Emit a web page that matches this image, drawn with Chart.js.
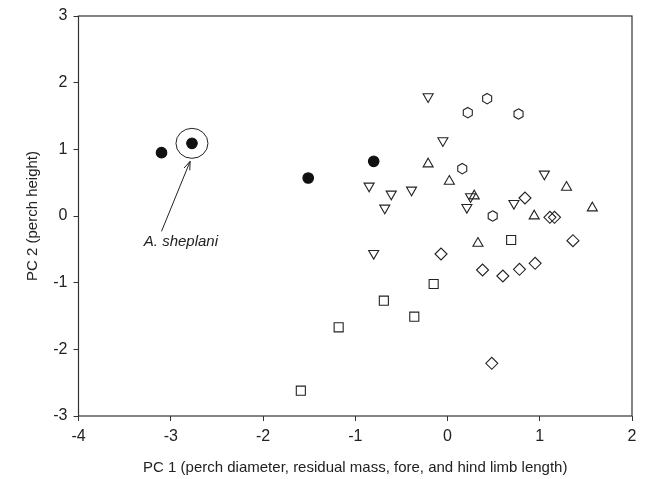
<!DOCTYPE html>
<html>
<head>
<meta charset="utf-8">
<script src="https://cdn.jsdelivr.net/npm/chart.js@4.4.1/dist/chart.umd.min.js"></script>
<style>
  html, body { margin: 0; padding: 0; background: #fff; }
  #wrap { width: 646px; height: 479px; }
</style>
</head>
<body>
<div id="wrap"><canvas id="grafico" width="646" height="479"></canvas></div>
<script>
// Dados (PC1, PC2)
const circuloX = [-3.10, -2.77, -1.51, -0.80];
const circuloY = [0.95, 1.09, 0.57, 0.82];

const trianguloBaixoX = [-0.21, -0.05, -0.85, -0.61, -0.39, -0.68, 0.25, 0.21, 0.72, 1.05, -0.80];
const trianguloBaixoY = [1.79, 1.13, 0.45, 0.33, 0.39, 0.12, 0.29, 0.13, 0.19, 0.63, -0.56];

const trianguloCimaX = [-0.21, 0.02, 0.29, 1.29, 1.57, 0.94, 0.33];
const trianguloCimaY = [0.78, 0.52, 0.30, 0.43, 0.12, 0.00, -0.41];

const hexagonoX = [0.43, 0.22, 0.77, 0.16, 0.49];
const hexagonoY = [1.76, 1.55, 1.53, 0.71, 0.00];

const losangoX = [0.84, 1.11, 1.16, 1.36, -0.07, 0.38, 0.60, 0.78, 0.95, 0.48];
const losangoY = [0.27, -0.02, -0.02, -0.37, -0.57, -0.81, -0.90, -0.80, -0.71, -2.21];

const quadradoX = [0.69, -0.15, -0.69, -0.36, -1.18, -1.59];
const quadradoY = [-0.36, -1.02, -1.27, -1.51, -1.67, -2.62];

// Anotação: ponto destacado, seta e rótulo
const destaque = { x: -2.77, y: 1.09 };
const setaInicio = { x: -3.10, y: -0.23 };
const setaFim = { x: -2.79, y: 0.82 };
const rotulo = { x: -2.89, y: -0.38, texto: 'A. sheplani' };

const COR = '#222';
const FONTE = '"Liberation Sans", Arial, sans-serif';

function pontos(xs, ys) {
  return xs.map((x, i) => ({ x, y: ys[i] }));
}

const estiloBase = {
  borderColor: COR,
  backgroundColor: 'transparent',
  borderWidth: 1.1,
  showLine: false
};

const datasets = [
  { ...estiloBase, data: pontos(trianguloBaixoX, trianguloBaixoY), pointStyle: 'triangle', rotation: 180, pointRadius: 5.8 },
  { ...estiloBase, data: pontos(trianguloCimaX, trianguloCimaY), pointStyle: 'triangle', pointRadius: 5.8 },
  // hexágonos: o Chart.js não tem esse marcador, desenhados no plugin
  { ...estiloBase, data: pontos(hexagonoX, hexagonoY), pointRadius: 0, hexagono: true },
  { ...estiloBase, data: pontos(losangoX, losangoY), pointStyle: 'rectRot', pointRadius: 6 },
  { ...estiloBase, data: pontos(quadradoX, quadradoY), pointStyle: 'rect', pointRadius: 6.4 },
  { ...estiloBase, data: pontos(circuloX, circuloY), pointStyle: 'circle', pointRadius: 5.3, backgroundColor: '#111', borderColor: '#111' }
];

// Moldura, hexágonos e anotações
const pluginMoldura = {
  id: 'moldura',
  afterDatasetsDraw(chart) {
    const { ctx, chartArea: a, scales } = chart;
    const sx = scales.x, sy = scales.y;
    ctx.save();
    ctx.strokeStyle = '#333';
    ctx.lineWidth = 1.2;
    ctx.strokeRect(a.left, a.top, a.right - a.left, a.bottom - a.top);

    // hexágonos
    chart.data.datasets.forEach((ds, i) => {
      if (!ds.hexagono) return;
      const r = 5.2;
      ctx.strokeStyle = COR;
      ctx.lineWidth = 1.1;
      chart.getDatasetMeta(i).data.forEach(p => {
        ctx.beginPath();
        for (let k = 0; k < 6; k++) {
          const ang = Math.PI / 3 * k;
          const px = p.x + Math.sin(ang) * r;
          const py = p.y - Math.cos(ang) * r;
          if (k === 0) ctx.moveTo(px, py); else ctx.lineTo(px, py);
        }
        ctx.closePath();
        ctx.stroke();
      });
    });

    // círculo em volta do ponto
    ctx.strokeStyle = COR;
    ctx.lineWidth = 1;
    ctx.beginPath();
    ctx.ellipse(sx.getPixelForValue(destaque.x), sy.getPixelForValue(destaque.y), 16, 15, 0, 0, Math.PI * 2);
    ctx.stroke();

    // seta
    const x0 = sx.getPixelForValue(setaInicio.x), y0 = sy.getPixelForValue(setaInicio.y);
    const x1 = sx.getPixelForValue(setaFim.x), y1 = sy.getPixelForValue(setaFim.y);
    ctx.beginPath();
    ctx.moveTo(x0, y0);
    ctx.lineTo(x1, y1);
    const ang = Math.atan2(y1 - y0, x1 - x0);
    const L = 9;
    ctx.moveTo(x1 - L * Math.cos(ang - 0.35), y1 - L * Math.sin(ang - 0.35));
    ctx.lineTo(x1, y1);
    ctx.lineTo(x1 - L * Math.cos(ang + 0.35), y1 - L * Math.sin(ang + 0.35));
    ctx.stroke();

    // rótulo
    ctx.fillStyle = COR;
    ctx.font = 'italic 15px ' + FONTE;
    ctx.textAlign = 'center';
    ctx.textBaseline = 'middle';
    ctx.fillText(rotulo.texto, sx.getPixelForValue(rotulo.x), sy.getPixelForValue(rotulo.y));
    ctx.restore();
  }
};

const ctx = document.getElementById('grafico').getContext('2d');
new Chart(ctx, {
  type: 'scatter',
  data: { datasets },
  plugins: [pluginMoldura],
  options: {
    responsive: false,
    animation: false,
    layout: { padding: { left: 0, top: 16, right: 14, bottom: 0 } },
    plugins: {
      legend: { display: false },
      tooltip: { enabled: false }
    },
    scales: {
      x: {
        type: 'linear',
        min: -4,
        max: 2,
        afterFit: (s) => { s.height = 63; },
        title: {
          display: true,
          text: 'PC 1 (perch diameter, residual mass, fore, and hind limb length)',
          font: { size: 15, family: FONTE },
          color: COR,
          padding: { top: 6, bottom: 2 }
        },
        grid: { drawOnChartArea: false, drawTicks: true, tickLength: 5, color: '#333' },
        border: { display: false },
        ticks: { stepSize: 1, color: COR, font: { size: 16, family: FONTE }, padding: 6 }
      },
      y: {
        min: -3,
        max: 3,
        afterFit: (s) => { s.width = 78.5; },
        title: {
          display: true,
          text: 'PC 2 (perch height)',
          font: { size: 15, family: FONTE },
          color: COR,
          padding: { top: 24, bottom: 0 }
        },
        grid: { drawOnChartArea: false, drawTicks: true, tickLength: 5, color: '#333' },
        border: { display: false },
        ticks: { stepSize: 1, color: COR, font: { size: 16, family: FONTE }, padding: 6 }
      }
    }
  }
});
</script>
</body>
</html>
